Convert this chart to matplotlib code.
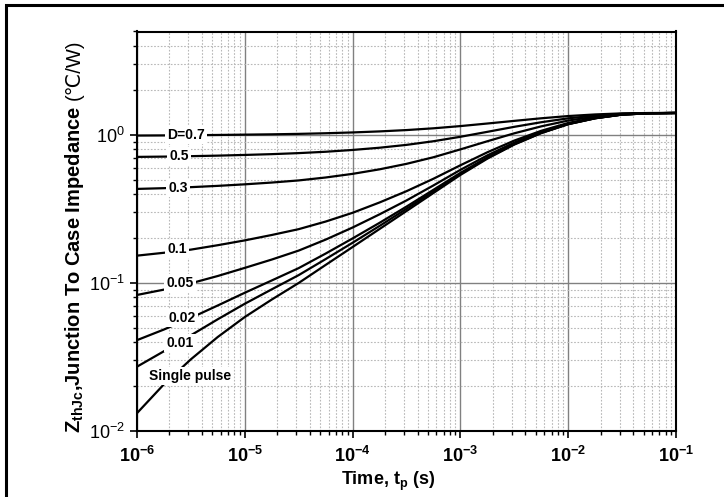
import matplotlib
matplotlib.use('Agg')
import matplotlib.pyplot as plt
from matplotlib.patches import Rectangle
from matplotlib.ticker import NullFormatter

plt.rcParams['font.family'] = ['Liberation Sans', 'DejaVu Sans']
plt.rcParams['mathtext.fontset'] = 'custom'
plt.rcParams['mathtext.rm'] = 'Liberation Sans'
plt.rcParams['mathtext.bf'] = 'Liberation Sans:bold'
plt.rcParams['mathtext.it'] = 'Liberation Sans:italic'

# pulse duration (s)
t = [1.0e-6, 1.78e-6, 3.16e-6, 5.62e-6, 1.0e-5, 1.78e-5, 3.16e-5, 5.62e-5,
     1.0e-4, 1.78e-4, 3.16e-4, 5.62e-4, 1.0e-3, 1.78e-3, 3.16e-3, 5.62e-3,
     1.0e-2, 1.78e-2, 3.16e-2, 5.62e-2, 1.0e-1]

# Zth(j-c) in C/W for each duty cycle
z_d07 = [0.991, 0.993, 0.996, 1.0, 1.005, 1.010, 1.017, 1.027, 1.040, 1.057,
         1.079, 1.109, 1.148, 1.195, 1.245, 1.296, 1.342, 1.376, 1.399, 1.407, 1.408]
z_d05 = [0.711, 0.714, 0.719, 0.725, 0.733, 0.742, 0.754, 0.770, 0.792, 0.820,
         0.857, 0.907, 0.972, 1.050, 1.135, 1.219, 1.295, 1.352, 1.390, 1.404, 1.408]
z_d03 = [0.432, 0.437, 0.444, 0.453, 0.464, 0.477, 0.493, 0.516, 0.546, 0.586,
         0.638, 0.707, 0.799, 0.907, 1.026, 1.143, 1.251, 1.330, 1.384, 1.403, 1.408]
z_d01 = [0.153, 0.160, 0.168, 0.180, 0.194, 0.211, 0.231, 0.260, 0.298, 0.350,
         0.417, 0.506, 0.624, 0.764, 0.916, 1.067, 1.205, 1.307, 1.377, 1.402, 1.408]
z_d005 = [0.0830, 0.0902, 0.0995, 0.1115, 0.1265, 0.144, 0.1655, 0.1963, 0.237,
          0.291, 0.361, 0.456, 0.581, 0.728, 0.888, 1.048, 1.193, 1.302, 1.375,
          1.401, 1.408]
z_d002 = [0.0411, 0.0485, 0.0581, 0.0705, 0.0859, 0.104, 0.126, 0.158, 0.200,
          0.255, 0.328, 0.426, 0.554, 0.706, 0.872, 1.036, 1.186, 1.298, 1.374,
          1.401, 1.408]
z_d001 = [0.0272, 0.0346, 0.0443, 0.0569, 0.0724, 0.0906, 0.113, 0.145, 0.187,
          0.243, 0.317, 0.416, 0.546, 0.699, 0.866, 1.033, 1.184, 1.297, 1.373,
          1.401, 1.408]
z_single = [0.0132, 0.0207, 0.0305, 0.0432, 0.0589, 0.0773, 0.1, 0.1324, 0.175,
            0.2317, 0.3062, 0.4055, 0.537, 0.692, 0.861, 1.029, 1.182, 1.296,
            1.373, 1.401, 1.408]

curves = [z_d07, z_d05, z_d03, z_d01, z_d005, z_d002, z_d001, z_single]
curve_names = ['D=0.7', '0.5', '0.3', '0.1', '0.05', '0.02', '0.01', 'Single pulse']
# where each curve name sits on its line
name_x = [2.85e-6, 2.45e-6, 2.40e-6, 2.35e-6, 2.51e-6, 2.61e-6, 2.51e-6, 3.10e-6]
name_y = [1.0, 0.72, 0.438, 0.170, 0.1, 0.058, 0.0393, 0.0235]

xticks = [1e-6, 1e-5, 1e-4, 1e-3, 1e-2, 1e-1]
yticks = [1e-2, 1e-1, 1e0]

W, H = 724, 497
fig = plt.figure(figsize=(W / 100, H / 100), dpi=100)
ax = fig.add_axes([137 / W, (H - 431) / H, 539 / W, 399.5 / H])

for z in curves:
    ax.plot(t, z, color='black', lw=1.6, zorder=3)

for name, x, y in zip(curve_names, name_x, name_y):
    ax.text(x, y, name, ha='center', va='center', fontsize=10, fontweight='bold',
            bbox=dict(boxstyle='square,pad=0.15', fc='white', ec='none'), zorder=4)

ax.set_xscale('log')
ax.set_yscale('log')
ax.set_xlim(1e-6, 1e-1)
ax.set_ylim(1e-2, 5)
ax.set_xticks(xticks)
ax.set_yticks(yticks)
ax.yaxis.set_minor_formatter(NullFormatter())
ax.xaxis.set_minor_formatter(NullFormatter())

ax.set_axisbelow(True)
ax.grid(which='major', color='#808080', lw=1.0)
ax.grid(which='minor', color='#b8b8b8', lw=0.8, ls=(0, (1.5, 1.5)))

ax.tick_params(which='major', direction='out', length=5, width=1.2, labelsize=13)
ax.tick_params(axis='x', which='major', pad=6)
ax.tick_params(which='minor', direction='out', length=3, width=1.0)
plt.setp(ax.get_xticklabels(), fontweight='bold')
for s in ax.spines.values():
    s.set_linewidth(1.5)

fig.text(388 / W, (H - 481) / H, r'Time, $\mathbf{t_p}$ (s)', ha='center', va='center',
         fontsize=13, fontweight='bold')

ylab = fig.text(80 / W, (H - 433) / H,
                r'$\mathbf{Z_{thJc}}$,Junction To Case Impedance',
                rotation=90, rotation_mode='anchor', ha='left', va='baseline',
                fontsize=14.5, fontweight='bold')
ax.annotate('(℃/W)', xy=(80, 1), xycoords=('figure pixels', ylab),
            xytext=(0, 4), textcoords='offset points', rotation=90,
            rotation_mode='anchor', ha='left', va='baseline', fontsize=14.5,
            annotation_clip=False)

# outer frame
fig.add_artist(Rectangle((5.5 / W, -0.1), 1.2, (H - 5) / H + 0.1, transform=fig.transFigure,
                         fill=False, lw=2.2, ec='black', clip_on=False))

fig.savefig('out.png', dpi=100)
